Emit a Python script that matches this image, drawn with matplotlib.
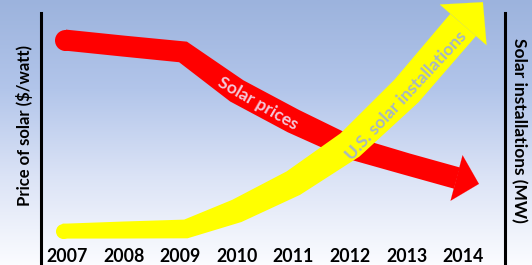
import numpy as np
import matplotlib.pyplot as plt
from matplotlib.patches import Polygon
from matplotlib.transforms import IdentityTransform
from matplotlib.colors import LinearSegmentedColormap

plt.rcParams['font.family'] = ['Lato', 'DejaVu Sans']

# years along the bottom
years = [2007, 2008, 2009, 2010, 2011, 2012, 2013, 2014]

# both trends in relative units (0-100 of the plot height)
price_x = [2006.96, 2007, 2008, 2009.05, 2010, 2011, 2012, 2013, 2013.89]
price_y = [84.9, 84.8, 82.6, 80.4, 65.7, 54.3, 44.3, 38.1, 32.8]
price_tip = (2014.28, 30.6)

install_x = [2006.92, 2007, 2008, 2009.1, 2010, 2011, 2012, 2013, 2014.0]
install_y = [12.8, 12.8, 13.2, 13.6, 20.4, 30.9, 45.3, 65.7, 90.6]
install_tip = (2014.35, 99.2)

# band thickness in pixels at each point (style, not data)
price_w = [21, 21, 21, 22, 25, 25, 23, 22, 22]
install_w = [15, 15, 17, 19, 24, 27, 30, 33, 34]


def draw_band(ax, xs, ys, widths, tip, head_len, head_half, color, z):
    # outline of a band that follows the points, built in pixel space
    pts = ax.transData.transform(np.column_stack([xs, ys]))
    d = np.diff(pts, axis=0)
    n = np.column_stack([-d[:, 1], d[:, 0]]) / np.hypot(d[:, 0], d[:, 1])[:, None]
    vn = np.vstack([n[0], n[:-1] + n[1:], n[-1]])
    vn /= np.hypot(vn[:, 0], vn[:, 1])[:, None]
    half = np.array(widths, dtype=float)[:, None] / 2
    outline = np.vstack([pts + vn * half, (pts - vn * half)[::-1]])
    ax.add_patch(Polygon(outline, closed=True, transform=IdentityTransform(),
                         facecolor=color, edgecolor='none', zorder=z))
    # round start
    ax.plot(xs[0], ys[0], 'o', ms=widths[0] * 0.72, mew=0, color=color, zorder=z)
    # arrow head from the end of the band to the tip
    style = '-|>,head_length=%.1f,head_width=%.1f' % (head_len, head_half)
    ax.annotate('', xy=tip, xytext=(xs[-1], ys[-1]),
                arrowprops=dict(arrowstyle=style, mutation_scale=1, color=color,
                                lw=0.1, shrinkA=0, shrinkB=0),
                zorder=z)


fig = plt.figure(figsize=(5.32, 2.65), dpi=100)

# background gradient, blue at the top fading to white
bg = fig.add_axes([0, 0, 1, 1], zorder=0)
grad = np.linspace(0, 1, 256).reshape(-1, 1)
sky = LinearSegmentedColormap.from_list('sky', ['#9cb3dd', '#b2c5ea', '#dbe3f6', '#fbfcff'])
bg.imshow(grad, aspect='auto', cmap=sky, extent=[0, 1, 0, 1])
bg.axis('off')

ax = fig.add_axes([41 / 532, 0, 464 / 532, 1], zorder=1)
ax.patch.set_alpha(0)
ax.set_xlim(2006.54, 2014.74)
ax.set_ylim(0, 100)

draw_band(ax, price_x, price_y, price_w, price_tip, 16.6, 16.9, '#ff0000', 2)
draw_band(ax, install_x, install_y, install_w, install_tip, 21.6, 22.3, '#ffff00', 3)

ax.text(2010.37, 60.8, 'Solar prices', rotation=-30, rotation_mode='anchor',
        ha='center', va='center', fontsize=12.5, fontweight='bold',
        color='#f2c8da', zorder=4)
ax.text(2013.0, 63.8, 'U.S. solar installations', rotation=47, rotation_mode='anchor',
        ha='center', va='center', fontsize=12.5, fontweight='bold',
        color='#a6b6c4', zorder=4)

for side in ['top', 'bottom']:
    ax.spines[side].set_visible(False)
for side in ['left', 'right']:
    ax.spines[side].set_linewidth(2.2)
    ax.spines[side].set_bounds(0, 95.2)

ax.set_yticks([])
ax.set_xticks(years, [str(y) for y in years])
ax.tick_params(axis='x', length=0, pad=-12.5, labelsize=12.8)
for lab in ax.get_xticklabels():
    lab.set_fontweight('bold')

ax.text(-0.0345, 0.525, 'Price of solar ($/watt)', transform=ax.transAxes,
        rotation=90, ha='center', va='center', fontsize=12, fontweight='bold')
ax.text(1.03, 0.506, 'Solar installations (MW)', transform=ax.transAxes,
        rotation=-90, ha='center', va='center', fontsize=12.5, fontweight='bold')

fig.savefig('out.png', dpi=100)
